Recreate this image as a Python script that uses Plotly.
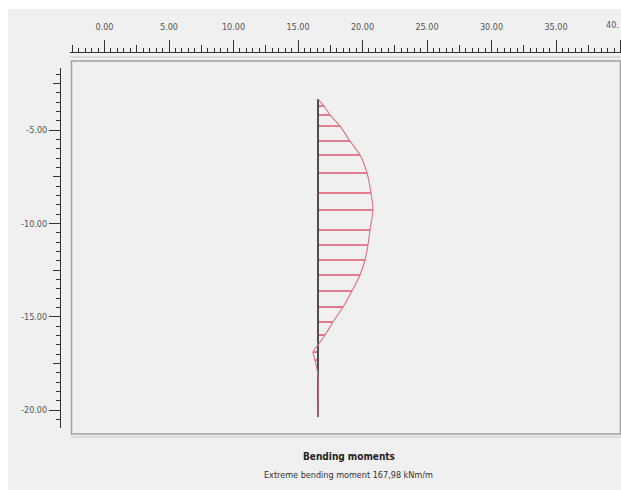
import plotly.graph_objects as go

# ---------------- data ----------------
depth = [-3.34, -3.71, -4.19, -4.78, -5.59, -6.34, -7.30, -8.37, -9.28, -10.35, -11.16,
         -11.96, -12.76, -13.62, -14.48, -15.28, -15.98, -16.51, -16.89, -17.32, -18.12, -20.37]
moment = [0.0, 18.3, 36.6, 67.2, 97.7, 128.3, 149.6, 161.9, 167.98, 158.8, 152.7,
          143.5, 128.3, 103.8, 76.4, 45.8, 21.4, 0.0, -15.3, -9.2, 0.0, 0.0]
pile_x = 16.55
moment_scale = 39.4          # kNm/m per horizontal axis unit
x_tick_vals = [0, 5, 10, 15, 20, 25, 30, 35, 40]
x_tick_text = ["0.00", "5.00", "10.00", "15.00", "20.00", "25.00", "30.00", "35.00", ""]
x_edge_label = "40."         # last ruler label, cut by the window edge in the original
y_tick_vals = [-5, -10, -15, -20]
y_tick_text = ["-5.00", "-10.00", "-15.00", "-20.00"]
title_text = "Bending moments"
subtitle_text = "Extreme bending moment 167,98 kNm/m"

# ---------------- layout helpers ----------------
W, H = 621, 490
ML, MR, MT, MB = 60, 0, 52, 55
PW, PH = W - ML - MR, H - MT - MB
X0PX, XPPU = 104.5, 12.9     # pixel of x=0, pixels per unit
Y0PX, YPPU = 36.7, 18.67     # pixel of y=0, pixels per unit


def fx(px):
    return (px - ML) / PW


def fy(py):
    return (H - MB - py) / PH


def xv(px):
    return (px - X0PX) / XPPU


def yv(py):
    return -(py - Y0PX) / YPPU


BG = "#f0f0f0"
CLEAR = "rgba(0,0,0,0)"
FONT = "DejaVu Sans Condensed, Liberation Sans Narrow, Liberation Sans, Arial, sans-serif"

curve_x = [pile_x + m / moment_scale for m in moment]

hx, hy = [], []
for d, cx, m in zip(depth, curve_x, moment):
    if abs(m) > 1e-9:
        hx += [pile_x, cx, None]
        hy += [d, d, None]

fig = go.Figure()
fig.add_trace(go.Scatter(x=[], y=[], xaxis="x2", yaxis="y2", showlegend=False))
fig.add_trace(go.Scatter(x=[], y=[], xaxis="x3", yaxis="y3", showlegend=False))
# hatch lines
fig.add_trace(go.Scatter(x=hx, y=hy, mode="lines",
                         line=dict(color="#dc5a72", width=1.6),
                         hoverinfo="skip", showlegend=False))
# pile
fig.add_trace(go.Scatter(x=[pile_x, pile_x], y=[depth[0], depth[-1]], mode="lines",
                         line=dict(color="#4d4d4d", width=2),
                         hoverinfo="skip", showlegend=False))
# moment curve
fig.add_trace(go.Scatter(x=curve_x, y=depth, mode="lines",
                         line=dict(color="#e2707e", width=1.1, shape="spline", smoothing=0.6),
                         showlegend=False))

tickfont = dict(family=FONT, size=9, color="#555555")
xr_range = [xv(70), xv(621)]
yr_range = [yv(428), yv(68)]
minor_style = dict(dtick=0.5, tick0=0, ticklen=4, tickcolor="#333333", ticks="outside",
                   showgrid=False)

fig.update_layout(
    width=W, height=H, autosize=False,
    margin=dict(l=ML, r=MR, t=MT, b=MB, pad=0),
    paper_bgcolor=BG, plot_bgcolor=CLEAR,
    showlegend=False,
    xaxis=dict(domain=[fx(72), 1], range=[xv(72), xv(621)], visible=False,
               anchor="y", fixedrange=True),
    yaxis=dict(domain=[0, fy(62.5)], range=[yv(435), yv(62.5)], visible=False,
               anchor="x", fixedrange=True),
    xaxis2=dict(domain=[fx(70), 1], range=xr_range, anchor="free", position=1, side="top",
                showgrid=False, zeroline=False, showline=True, linecolor="#333333", linewidth=1,
                ticks="outside", ticklen=12, tickwidth=1, tickcolor="#333333",
                tickmode="array", tickvals=x_tick_vals, ticktext=x_tick_text,
                tickfont=tickfont, ticklabelstandoff=6, minor=minor_style),
    yaxis2=dict(domain=[fy(428), fy(68)], range=yr_range, anchor="free", position=0, side="left",
                showgrid=False, zeroline=False, showline=True, linecolor="#333333", linewidth=1,
                ticks="outside", ticklen=11, tickwidth=1, tickcolor="#333333",
                tickmode="array", tickvals=y_tick_vals, ticktext=y_tick_text,
                tickfont=tickfont, minor=minor_style),
    xaxis3=dict(domain=[fx(70), 1], range=xr_range, anchor="free", position=1, side="top",
                showgrid=False, zeroline=False, showline=False,
                ticks="outside", ticklen=7, tickwidth=1, tickcolor="#333333",
                dtick=2.5, tick0=0, showticklabels=False),
    yaxis3=dict(domain=[fy(428), fy(68)], range=yr_range, anchor="free", position=0, side="left",
                showgrid=False, zeroline=False, showline=False,
                ticks="outside", ticklen=7, tickwidth=1, tickcolor="#333333",
                dtick=2.5, tick0=0, showticklabels=False),
    shapes=[
        dict(type="rect", xref="paper", yref="paper", x0=fx(0), x1=fx(W), y0=fy(9), y1=fy(0),
             fillcolor="white", line=dict(width=0), layer="below"),
        dict(type="rect", xref="paper", yref="paper", x0=fx(0), x1=fx(8), y0=fy(H), y1=fy(0),
             fillcolor="white", line=dict(width=0), layer="below"),
        dict(type="rect", xref="paper", yref="paper", x0=fx(71.5), x1=fx(620.5),
             y0=fy(434), y1=fy(61), line=dict(color="#a0a0a0", width=1.5), layer="below"),
        dict(type="line", xref="paper", yref="paper", x0=fx(71), x1=fx(621),
             y0=fy(437), y1=fy(437), line=dict(color="#dadada", width=2), layer="below"),
        dict(type="line", xref="paper", yref="paper", x0=fx(70), x1=fx(621),
             y0=fy(57), y1=fy(57), line=dict(color="#d4d4d4", width=1.5), layer="below"),
    ],
    annotations=[
        dict(text=x_edge_label, xref="paper", yref="paper",
             x=1, y=fy(25), xanchor="right", yanchor="middle", showarrow=False,
             font=tickfont),
        dict(text="<b>" + title_text + "</b>", xref="paper", yref="paper",
             x=fx(349), y=fy(456), xanchor="center", yanchor="middle", showarrow=False,
             font=dict(family=FONT, size=10, color="#222222")),
        dict(text=subtitle_text, xref="paper", yref="paper",
             x=fx(348), y=fy(475), xanchor="center", yanchor="middle", showarrow=False,
             font=dict(family=FONT, size=9, color="#333333")),
    ],
)

fig.write_html("out.html")
